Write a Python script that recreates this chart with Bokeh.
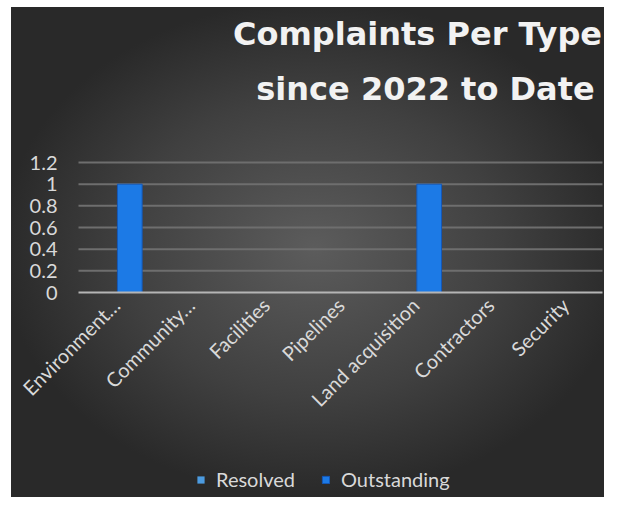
import math
from bokeh.plotting import figure
from bokeh.models import ColumnDataSource, Legend, Label, FixedTicker, Range1d
from bokeh.transform import dodge
from bokeh.embed import file_html
from bokeh.resources import INLINE

categories = ["Environment\u2026", "Community\u2026", "Facilities", "Pipelines",
              "Land acquisition", "Contractors", "Security"]
resolved = [0, 0, 0, 0, 0, 0, 0]
outstanding = [1, 0, 0, 0, 1, 0, 0]
y_ticks = [0, 0.2, 0.4, 0.6, 0.8, 1, 1.2]
title_lines = ["Complaints Per Type", "since 2022 to Date"]
series_names = ["Resolved", "Outstanding"]

# ---- layout (pixels) ----
W, H = 604, 497
PLOT_L, PLOT_R = 78, 602      # left/right pixel edges of the category band
TOP_TICK_PX = 162             # canvas row of y = 1.2
ZERO_PX = 292                 # canvas row of y = 0
n = len(categories)
x_unit = (PLOT_R - PLOT_L) / n
y_unit = (ZERO_PX - TOP_TICK_PX) / y_ticks[-1]
band_lo, band_hi = -0.5, n - 0.5
x_range = Range1d(band_lo - PLOT_L / x_unit, band_hi + (W - PLOT_R) / x_unit)
y_range = Range1d(-(H - ZERO_PX) / y_unit, ZERO_PX / y_unit)

idx = list(range(n))
src = ColumnDataSource(dict(idx=idx, cat=categories, resolved=resolved, outstanding=outstanding))

FONT = "Lato"
LABEL = "#d9d9d9"

p = figure(x_range=x_range, y_range=y_range, width=W, height=H,
           output_backend="svg", toolbar_location=None, title=None,
           min_border_left=0, min_border_right=0, min_border_top=0, min_border_bottom=0)

p.background_fill_alpha = 0
p.border_fill_alpha = 0
p.outline_line_color = None
p.xgrid.visible = False
p.ygrid.visible = False
p.styles = {"background": ("linear-gradient(#ffffff,#ffffff) left top / 11px 100% no-repeat, "
                           "linear-gradient(#ffffff,#ffffff) left top / 100% 7px no-repeat, "
                           "radial-gradient(ellipse farthest-side at 52% 50%, #5c5c5c 0%, #404040 60%, #292929 100%)")}

# horizontal gridlines at the y ticks, spanning the category band
grid_y = y_ticks[1:]
p.segment(x0=[band_lo] * len(grid_y), x1=[band_hi] * len(grid_y), y0=grid_y, y1=grid_y,
          line_color="#6e6e6e", line_width=2)

r1 = p.vbar(x=dodge("idx", -0.185), top="resolved", width=0.33, source=src,
            fill_color="#4c9be0", line_color=None)
r2 = p.vbar(x=dodge("idx", 0.185), top="outstanding", width=0.33, source=src,
            fill_color="#1c7ae6", line_color="#1458b8", line_width=1)

# title, two lines
for txt, xx, base in zip(title_lines, [417, 425], [44, 99]):
    p.add_layout(Label(x=xx, y=H - base + 11, x_units="screen", y_units="screen", text=txt,
                       text_font="DejaVu Sans", text_font_size="32px", text_font_style="bold",
                       text_color="#f2f2f2", text_align="center", text_baseline="alphabetic"))

# y axis at the left edge of the category band
p.yaxis.fixed_location = band_lo
p.yaxis.ticker = FixedTicker(ticks=y_ticks)
p.yaxis.axis_line_color = None
p.yaxis.major_tick_line_color = None
p.yaxis.minor_tick_line_color = None
p.yaxis.major_tick_out = 0
p.yaxis.major_tick_in = 0
p.yaxis.major_label_standoff = 21
p.yaxis.major_label_text_font = FONT
p.yaxis.major_label_text_font_size = "20px"
p.yaxis.major_label_text_color = LABEL
p.yaxis.major_label_overrides = {t: f"{t:g}" for t in y_ticks}

# x axis crossing at y = 0
p.xaxis.fixed_location = 0
p.xaxis.bounds = (band_lo, band_hi)
p.xaxis.ticker = FixedTicker(ticks=idx)
p.xaxis.major_label_overrides = {i: c for i, c in zip(idx, categories)}
p.xaxis.axis_line_color = "#b5b5b5"
p.xaxis.axis_line_width = 2
p.xaxis.major_tick_line_color = None
p.xaxis.minor_tick_line_color = None
p.xaxis.major_tick_out = 0
p.xaxis.major_tick_in = 0
p.xaxis.major_label_standoff = 9
p.xaxis.major_label_orientation = math.pi / 4
p.xaxis.major_label_text_font = FONT
p.xaxis.major_label_text_font_size = "20px"
p.xaxis.major_label_text_color = LABEL

legend = Legend(items=[(series_names[0], [r1]), (series_names[1], [r2])], orientation="horizontal",
                location=(196, 6), background_fill_alpha=0, border_line_alpha=0,
                label_text_color=LABEL, label_text_font=FONT, label_text_font_size="20px",
                glyph_width=9, glyph_height=9, spacing=26, padding=0, margin=0,
                label_standoff=11)
p.add_layout(legend, "center")

open("out.html", "w").write(file_html(p, INLINE))
